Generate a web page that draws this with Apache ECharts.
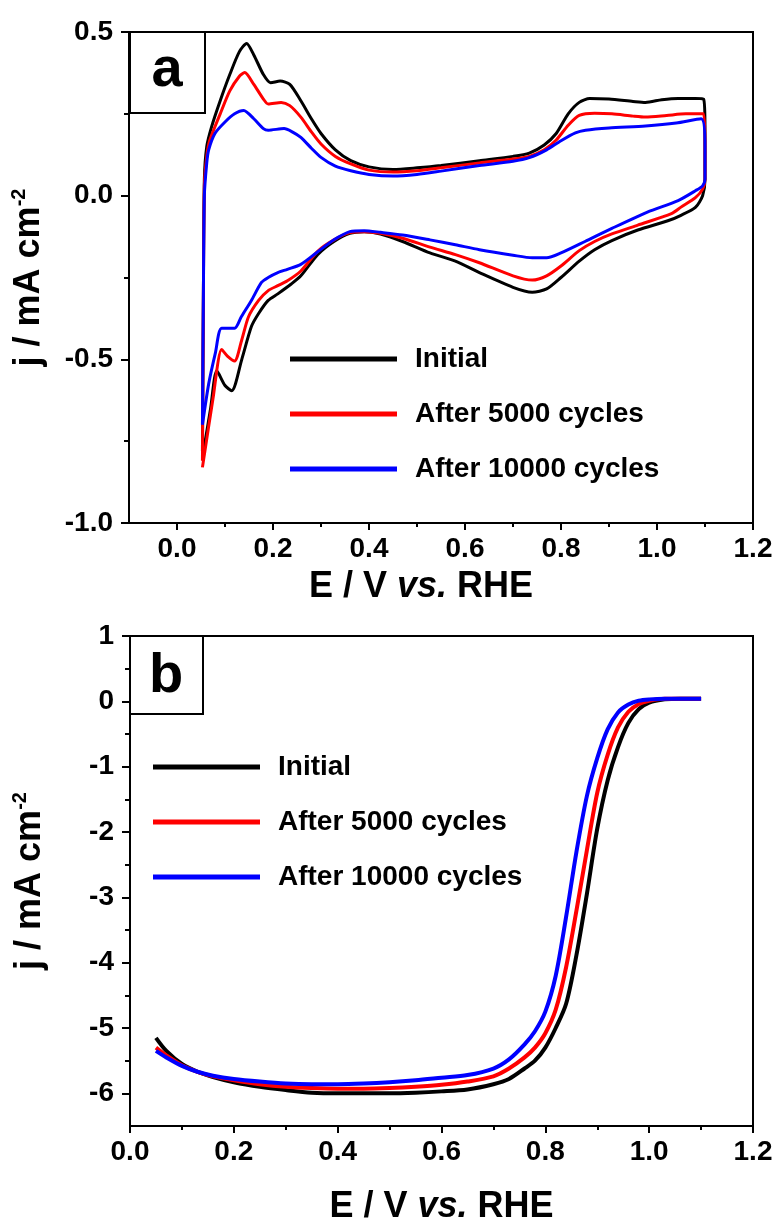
<!DOCTYPE html>
<html><head><meta charset="utf-8">
<script src="https://cdn.jsdelivr.net/npm/echarts@6/dist/echarts.min.js"></script>
<style>html,body{margin:0;padding:0;background:#fff}#c{width:783px;height:1223px}</style>
</head><body><div id="c"></div>
<script>
const seriesNames = ['Initial', 'After 5000 cycles', 'After 10000 cycles'];
const seriesColors = ['#000000', '#ff0000', '#0000ff'];

// Panel a: cyclic voltammograms, [E (V vs RHE), j (mA cm-2)] in scan order
const cvInitial = [[0.053,-0.78],[0.055,-0.3],[0.057,0.05],[0.062,0.15],[0.072,0.21],[0.09,0.29],[0.11,0.37],[0.13,0.44],[0.145,0.465],[0.16,0.43],[0.18,0.37],[0.195,0.345],[0.215,0.35],[0.235,0.34],[0.258,0.29],[0.28,0.235],[0.30,0.19],[0.33,0.14],[0.362,0.107],[0.40,0.088],[0.45,0.08],[0.5,0.085],[0.55,0.092],[0.63,0.107],[0.70,0.12],[0.734,0.13],[0.765,0.155],[0.79,0.19],[0.815,0.25],[0.838,0.285],[0.86,0.297],[0.9,0.295],[0.95,0.288],[0.976,0.285],[1.01,0.293],[1.044,0.297],[1.08,0.297],[1.097,0.295],[1.1,0.2],[1.1,0.05],[1.095,0.0],[1.08,-0.036],[1.05,-0.06],[1.024,-0.076],[0.96,-0.105],[0.906,-0.137],[0.87,-0.165],[0.838,-0.2],[0.80,-0.25],[0.77,-0.285],[0.74,-0.295],[0.70,-0.28],[0.63,-0.235],[0.58,-0.2],[0.527,-0.175],[0.47,-0.14],[0.424,-0.117],[0.39,-0.11],[0.36,-0.115],[0.327,-0.14],[0.293,-0.18],[0.258,-0.245],[0.238,-0.27],[0.21,-0.3],[0.19,-0.32],[0.17,-0.36],[0.155,-0.40],[0.135,-0.50],[0.114,-0.596],[0.10,-0.58],[0.083,-0.535],[0.07,-0.65],[0.053,-0.80]];
const cvAfter5000 = [[0.053,-0.81],[0.055,-0.3],[0.057,0.03],[0.062,0.12],[0.068,0.168],[0.09,0.25],[0.11,0.32],[0.13,0.365],[0.141,0.376],[0.16,0.34],[0.18,0.295],[0.19,0.28],[0.217,0.285],[0.235,0.275],[0.258,0.24],[0.28,0.195],[0.30,0.158],[0.33,0.12],[0.362,0.097],[0.40,0.078],[0.45,0.072],[0.5,0.076],[0.55,0.085],[0.63,0.1],[0.70,0.112],[0.734,0.12],[0.765,0.14],[0.79,0.17],[0.815,0.215],[0.838,0.245],[0.87,0.252],[0.906,0.25],[0.95,0.243],[0.976,0.24],[1.02,0.245],[1.06,0.25],[1.097,0.25],[1.1,0.15],[1.1,0.05],[1.095,0.02],[1.08,-0.006],[1.05,-0.035],[1.03,-0.055],[0.96,-0.09],[0.906,-0.117],[0.87,-0.14],[0.838,-0.168],[0.80,-0.215],[0.77,-0.245],[0.74,-0.258],[0.70,-0.245],[0.63,-0.205],[0.58,-0.18],[0.527,-0.157],[0.47,-0.13],[0.424,-0.115],[0.39,-0.11],[0.36,-0.113],[0.327,-0.135],[0.293,-0.17],[0.258,-0.23],[0.23,-0.26],[0.21,-0.275],[0.19,-0.29],[0.17,-0.32],[0.149,-0.37],[0.135,-0.44],[0.12,-0.505],[0.105,-0.49],[0.093,-0.47],[0.075,-0.62],[0.053,-0.83]];
const cvAfter10000 = [[0.053,-0.70],[0.055,-0.3],[0.057,0.0],[0.062,0.1],[0.066,0.14],[0.079,0.19],[0.10,0.225],[0.12,0.25],[0.139,0.26],[0.16,0.235],[0.18,0.205],[0.19,0.2],[0.223,0.205],[0.24,0.195],[0.258,0.178],[0.28,0.145],[0.30,0.117],[0.33,0.09],[0.362,0.076],[0.40,0.065],[0.45,0.06],[0.5,0.065],[0.55,0.075],[0.63,0.092],[0.70,0.105],[0.734,0.116],[0.77,0.14],[0.80,0.168],[0.83,0.192],[0.851,0.2],[0.9,0.207],[0.976,0.213],[1.04,0.222],[1.092,0.235],[1.1,0.15],[1.1,0.05],[1.095,0.03],[1.08,0.015],[1.044,-0.015],[0.98,-0.05],[0.906,-0.10],[0.85,-0.14],[0.80,-0.175],[0.77,-0.19],[0.74,-0.19],[0.70,-0.182],[0.63,-0.165],[0.58,-0.15],[0.527,-0.135],[0.47,-0.12],[0.424,-0.112],[0.39,-0.107],[0.36,-0.11],[0.327,-0.135],[0.29,-0.175],[0.258,-0.21],[0.23,-0.225],[0.21,-0.235],[0.19,-0.25],[0.176,-0.265],[0.155,-0.32],[0.134,-0.37],[0.12,-0.405],[0.093,-0.405],[0.08,-0.48],[0.066,-0.575],[0.053,-0.70]];

// Panel b: linear sweep voltammograms
const lsvPotential = [0.05,0.07,0.1,0.13,0.16,0.2,0.25,0.3,0.35,0.4,0.45,0.5,0.55,0.6,0.65,0.7,0.73,0.76,0.78,0.8,0.82,0.84,0.86,0.88,0.9,0.92,0.94,0.96,0.98,1.0,1.03,1.06,1.1];
const lsvInitial = [-5.15,-5.35,-5.55,-5.67,-5.75,-5.83,-5.9,-5.95,-5.99,-6.0,-6.0,-6.0,-5.99,-5.97,-5.94,-5.86,-5.78,-5.62,-5.5,-5.3,-5.0,-4.63,-3.88,-2.95,-1.95,-1.21,-0.7,-0.33,-0.12,-0.02,0.03,0.04,0.04];
const lsv5000 = [-5.3,-5.42,-5.57,-5.67,-5.74,-5.8,-5.86,-5.9,-5.92,-5.93,-5.93,-5.92,-5.9,-5.87,-5.82,-5.74,-5.62,-5.45,-5.3,-5.08,-4.72,-4.07,-3.2,-2.28,-1.4,-0.82,-0.4,-0.16,-0.04,0.01,0.04,0.04,0.04];
const lsv10000 = [-5.35,-5.45,-5.58,-5.67,-5.73,-5.78,-5.82,-5.85,-5.86,-5.86,-5.85,-5.83,-5.8,-5.76,-5.72,-5.62,-5.48,-5.25,-5.05,-4.75,-4.2,-3.3,-2.3,-1.45,-0.87,-0.43,-0.17,-0.05,0.01,0.03,0.04,0.04,0.04];

// Tick values
const cvXTicks = [0, 0.2, 0.4, 0.6, 0.8, 1.0, 1.2];
const cvXMinorTicks = [0.1, 0.3, 0.5, 0.7, 0.9, 1.1];
const lsvYTicks = [-6, -5, -4, -3, -2, -1, 0, 1];
const lsvYMinorTicks = [-5.5, -4.5, -3.5, -2.5, -1.5, -0.5, 0.5];

const FONT = 'Liberation Sans, Arial, sans-serif';
const black = '#000';
const labelStyle = { fontSize: 28, fontWeight: 'bold', color: black, fontFamily: FONT };
const xName = 'E / V {i|vs.} RHE';
const yName = 'j / mA cm{sup|-2}';
const xNameStyle = { fontSize: 36, fontWeight: 'bold', color: black, fontFamily: FONT,
  rich: { i: { fontSize: 36, fontWeight: 'bold', fontStyle: 'italic', color: black, fontFamily: FONT } } };
const yNameStyle = { fontSize: 36, fontWeight: 'bold', color: black, fontFamily: FONT, lineHeight: 40,
  rich: { sup: { fontSize: 20, fontWeight: 'bold', color: black, fontFamily: FONT, verticalAlign: 'top', lineHeight: 40, padding: [0,0,14,0] } } };
const axisLine = { show: true, onZero: false, lineStyle: { color: black, width: 2 } };
const hiddenLine = { show: false, onZero: false };

const chart = echarts.init(document.getElementById('c'), null, { renderer: 'canvas' });

function pairs(xs, ys) { return xs.map((x, i) => [x, ys[i]]); }

const cvData = [cvInitial, cvAfter5000, cvAfter10000];
const lsvData = [lsvInitial, lsv5000, lsv10000];

const series = [];
cvData.forEach((d, i) => series.push({
  name: seriesNames[i], type: 'line', xAxisIndex: 0, yAxisIndex: 0, data: d,
  showSymbol: false, symbol: 'none', smooth: 0.25, color: seriesColors[i],
  lineStyle: { width: 3, color: seriesColors[i] }, z: 3 + i
}));
lsvData.forEach((d, i) => series.push({
  name: seriesNames[i], type: 'line', xAxisIndex: 2, yAxisIndex: 2, data: pairs(lsvPotential, d),
  showSymbol: false, symbol: 'none', smooth: 0.3, color: seriesColors[i],
  lineStyle: { width: 4, color: seriesColors[i] }, z: 3 + i
}));

const legendCommon = {
  orient: 'vertical', icon: 'rect', itemWidth: 107, itemHeight: 5, itemGap: 25,
  data: seriesNames, selectedMode: false,
  textStyle: { fontSize: 28, fontWeight: 'bold', color: black, fontFamily: FONT, lineHeight: 30, padding: [0,0,0,13] }
};

chart.setOption({
  animation: false,
  backgroundColor: '#fff',
  grid: [
    { left: 129, top: 32, width: 624, height: 491, show: true, borderColor: black, borderWidth: 2, backgroundColor: 'transparent', outerBoundsMode: 'none', containLabel: false },
    { left: 130, top: 636, width: 623, height: 490, show: true, borderColor: black, borderWidth: 2, backgroundColor: 'transparent', outerBoundsMode: 'none', containLabel: false }
  ],
  legend: [
    Object.assign({}, legendCommon, { left: 285, top: 339 }),
    Object.assign({}, legendCommon, { left: 148, top: 747 })
  ],
  xAxis: [
    { type: 'value', gridIndex: 0, position: 'bottom', min: -0.1, max: 1.2, axisLine: axisLine,
      axisTick: { show: true, customValues: cvXTicks, length: 7, lineStyle: { color: black, width: 2 } },
      axisLabel: Object.assign({ customValues: cvXTicks, margin: 12, formatter: v => v.toFixed(1) }, labelStyle),
      splitLine: { show: false },
      name: xName, nameLocation: 'middle', nameGap: 46, nameTextStyle: Object.assign({ padding: [0, 40, 0, 0] }, xNameStyle) },
    { type: 'value', gridIndex: 0, position: 'bottom', min: -0.1, max: 1.2, axisLine: hiddenLine,
      axisTick: { show: true, customValues: cvXMinorTicks, length: 4, lineStyle: { color: black, width: 2 } },
      axisLabel: { show: false }, splitLine: { show: false } },
    { type: 'value', gridIndex: 1, position: 'bottom', min: 0, max: 1.2, interval: 0.2, axisLine: axisLine,
      axisTick: { show: true, length: 7, lineStyle: { color: black, width: 2 } },
      minorTick: { show: true, splitNumber: 2, length: 4, lineStyle: { color: black, width: 2 } },
      axisLabel: Object.assign({ margin: 12, formatter: v => v.toFixed(1) }, labelStyle),
      splitLine: { show: false }, minorSplitLine: { show: false },
      name: xName, nameLocation: 'middle', nameGap: 63, nameTextStyle: xNameStyle }
  ],
  yAxis: [
    { type: 'value', gridIndex: 0, position: 'left', min: -1, max: 0.5, interval: 0.5, axisLine: axisLine,
      axisTick: { show: true, length: 8, lineStyle: { color: black, width: 2 } },
      minorTick: { show: true, splitNumber: 2, length: 5, lineStyle: { color: black, width: 2 } },
      axisLabel: Object.assign({ margin: 16, formatter: v => v.toFixed(1) }, labelStyle),
      splitLine: { show: false }, minorSplitLine: { show: false },
      name: yName, nameLocation: 'middle', nameGap: 80, nameRotate: 90, nameTextStyle: yNameStyle },
    { type: 'value', gridIndex: 1, position: 'left', min: -6.5, max: 1, axisLine: hiddenLine,
      axisTick: { show: true, customValues: lsvYMinorTicks, length: 5, lineStyle: { color: black, width: 2 } },
      axisLabel: { show: false }, splitLine: { show: false } },
    { type: 'value', gridIndex: 1, position: 'left', min: -6.5, max: 1, axisLine: axisLine,
      axisTick: { show: true, customValues: lsvYTicks, length: 8, lineStyle: { color: black, width: 2 } },
      axisLabel: Object.assign({ customValues: lsvYTicks, margin: 16, formatter: v => String(v) }, labelStyle),
      splitLine: { show: false },
      name: yName, nameLocation: 'middle', nameGap: 80, nameRotate: 90, nameTextStyle: yNameStyle }
  ],
  graphic: [
    { type: 'rect', shape: { x: 130, y: 32, width: 75, height: 81 }, style: { fill: '#fff', stroke: black, lineWidth: 2 }, z: 100 },
    { type: 'text', x: 167, y: 71, style: { text: 'a', fontSize: 56, fontWeight: 'bold', fontFamily: FONT, fill: black, align: 'center', verticalAlign: 'middle' }, z: 101 },
    { type: 'rect', shape: { x: 130, y: 636, width: 73, height: 78 }, style: { fill: '#fff', stroke: black, lineWidth: 2 }, z: 100 },
    { type: 'text', x: 166, y: 677, style: { text: 'b', fontSize: 56, fontWeight: 'bold', fontFamily: FONT, fill: black, align: 'center', verticalAlign: 'middle' }, z: 101 }
  ],
  series: series
});
</script>
</body></html>
